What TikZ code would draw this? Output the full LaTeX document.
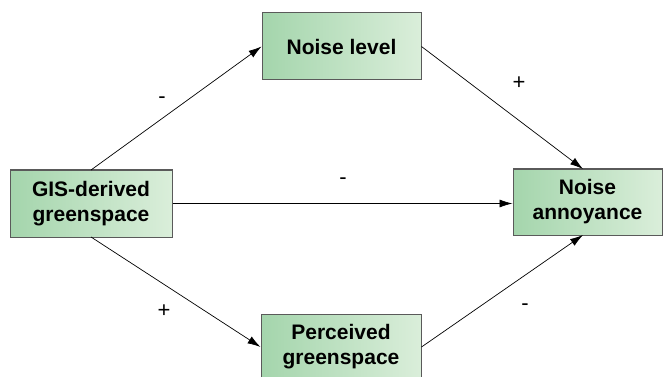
\documentclass[tikz,border=0pt]{standalone}
\usepackage{fontspec}
\setmainfont{Liberation Sans}
\usetikzlibrary{arrows.meta}
\definecolor{gleft}{RGB}{164,213,172}
\definecolor{gright}{RGB}{218,238,218}
\definecolor{bord}{RGB}{90,90,90}
\tikzset{
  box/.style={draw=bord, line width=1pt, left color=gleft, right color=gright,
    font=\fontsize{21}{25}\selectfont\bfseries, align=center, inner sep=0pt},
  conn/.style={-{Latex[length=13pt,width=8pt]}, line width=0.7pt},
  sign/.style={font=\fontsize{22}{24}\selectfont}
}
\begin{document}
\begin{tikzpicture}[x=1pt,y=-1pt]
\useasboundingbox (0,0) rectangle (664,377);
\node[box, minimum width=162pt, minimum height=67pt] (gis) at (91,203.5) {GIS-derived\\greenspace};
\node[box, minimum width=159pt, minimum height=67pt] (nl) at (341.5,46.5) {Noise level};
\node[box, minimum width=149pt, minimum height=66pt] (na) at (587.5,202) {Noise\\annoyance};
\node[box, minimum width=160pt, minimum height=66pt] (pg) at (341,347) {Perceived\\greenspace};
\coordinate (gisT) at (91,170);
\coordinate (gisB) at (91,237);
\coordinate (naT) at (583,169);
\coordinate (naB) at (583,235);
\draw[conn] (gisT) -- (nl.west);
\draw[conn] (nl.east) -- (naT);
\draw[conn] (gis.east) -- (gis.east -| na.west);
\draw[conn] (gisB) -- (pg.west);
\draw[conn] (pg.east) -- (naB);
\node[sign] (s1) at (162,100) {-};
\node[sign] (s2) at (519,83) {+};
\node[sign] (s3) at (343,181) {-};
\node[sign] (s4) at (164,311) {+};
\node[sign] (s5) at (525,307) {-};
\end{tikzpicture}
\end{document}
